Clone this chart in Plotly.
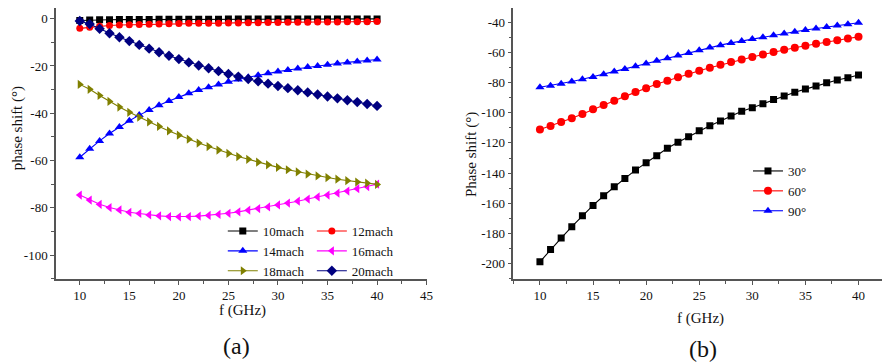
import plotly.graph_objects as go

# ---------------- data ----------------
freq = list(range(10, 41))

mach10 = [-0.8, -0.6, -0.5, -0.5, -0.4, -0.4, -0.4, -0.4, -0.3, -0.3, -0.3, -0.3, -0.3, -0.3, -0.3, -0.2,
          -0.2, -0.2, -0.2, -0.2, -0.2, -0.2, -0.2, -0.2, -0.1, -0.1, -0.1, -0.1, -0.1, -0.1, -0.1]
mach12 = [-4.1, -3.6, -3.2, -2.9, -2.7, -2.6, -2.5, -2.4, -2.3, -2.2, -2.1, -2.0, -2.0, -1.9, -1.9, -1.8,
          -1.8, -1.7, -1.7, -1.6, -1.6, -1.5, -1.5, -1.5, -1.4, -1.4, -1.4, -1.3, -1.3, -1.3, -1.2]
mach14 = [-58.6, -55.0, -51.7, -48.6, -45.8, -43.2, -40.8, -38.6, -36.6, -34.8, -33.1, -31.6, -30.2, -29.0,
          -27.8, -26.7, -25.7, -24.8, -23.9, -23.1, -22.4, -21.7, -21.1, -20.5, -20.0, -19.5, -19.0, -18.5,
          -18.1, -17.7, -17.3]
mach16 = [-74.6, -76.7, -78.5, -79.9, -80.9, -81.9, -82.4, -83.0, -83.4, -83.7, -83.8, -83.7, -83.5, -83.2,
          -82.8, -82.3, -81.7, -81.0, -80.3, -79.6, -78.8, -78.0, -77.2, -76.3, -75.4, -74.6, -73.8, -72.9,
          -71.9, -71.0, -70.0]
mach18 = [-27.8, -29.9, -32.5, -35.0, -37.4, -39.6, -41.7, -43.7, -45.6, -47.5, -49.3, -51.0, -52.6, -54.1,
          -55.6, -57.0, -58.3, -59.5, -60.7, -61.8, -62.9, -63.9, -64.8, -65.7, -66.5, -67.2, -67.9, -68.5,
          -69.1, -69.6, -70.1]
mach20 = [-1.0, -2.3, -4.3, -6.2, -7.9, -9.5, -11.1, -12.7, -14.2, -15.7, -17.1, -18.5, -19.8, -21.0, -22.2,
          -23.4, -24.5, -25.5, -26.5, -27.5, -28.5, -29.4, -30.3, -31.2, -32.1, -32.9, -33.7, -34.5, -35.3,
          -36.1, -36.9]

deg30 = [-198.7, -190.5, -183.0, -175.5, -168.2, -161.4, -155.0, -149.0, -143.5, -138.0, -133.1, -128.5,
         -123.6, -119.6, -115.9, -111.9, -108.6, -105.5, -102.2, -99.1, -96.7, -94.1, -91.2, -89.0, -86.5,
         -84.4, -82.4, -80.2, -78.4, -76.9, -75.1]
deg60 = [-111.1, -108.8, -106.2, -103.7, -100.9, -97.8, -94.9, -92.1, -89.2, -86.3, -83.9, -81.0, -78.9,
         -76.6, -74.2, -72.2, -70.2, -68.3, -66.5, -64.8, -63.1, -61.5, -59.9, -58.4, -57.0, -55.7, -54.4,
         -53.2, -52.0, -50.9, -49.8]
deg90 = [-83.2, -82.1, -80.8, -79.4, -77.9, -76.3, -74.6, -72.8, -71.0, -69.2, -67.4, -65.6, -63.9, -62.2,
         -60.5, -58.6, -56.9, -55.3, -53.8, -52.5, -51.2, -50.0, -48.8, -47.6, -46.4, -45.3, -44.3, -43.3,
         -42.3, -41.4, -40.5]

left_names = ["10mach", "12mach", "14mach", "16mach", "18mach", "20mach"]
right_names = ["30°", "60°", "90°"]

xa_tickvals = [10, 15, 20, 25, 30, 35, 40, 45]
xa_ticktext = ["10", "15", "20", "25", "30", "35", "40", "45"]
ya_tickvals = [0, -20, -40, -60, -80, -100]
ya_ticktext = ["0", "-20", "-40", "-60", "-80", "-100"]
xb_tickvals = [10, 15, 20, 25, 30, 35, 40]
xb_ticktext = ["10", "15", "20", "25", "30", "35", "40"]
yb_tickvals = [-40, -60, -80, -100, -120, -140, -160, -180, -200]
yb_ticktext = ["-40", "-60", "-80", "-100", "-120", "-140", "-160", "-180", "-200"]

# ---------------- figure ----------------
FONT = "Liberation Serif"
OFF = 8  # page body margin
W, H = 882, 356
ML, MR, MT, MB = 48, 0, 0, 85
PW, PH = W - ML - MR, H - MT - MB

fig = go.Figure()

left_series = [mach10, mach12, mach14, mach16, mach18, mach20]
left_colors = ["#000000", "#ff0000", "#0000ff", "#ff00ff", "#808000", "#000080"]
left_symbols = ["square", "circle", "triangle-up", "triangle-left", "triangle-right", "diamond"]
left_sizes = [7, 7, 8, 8, 8, 8]
left_legends = ["legend", "legend2", "legend", "legend2", "legend", "legend2"]

for name, ys, c, s, ms, lg in zip(left_names, left_series, left_colors, left_symbols, left_sizes, left_legends):
    fig.add_trace(go.Scatter(
        x=freq, y=ys, name=name, mode="lines+markers",
        line=dict(color=c, width=1.1),
        marker=dict(color=c, symbol=s, size=ms),
        xaxis="x", yaxis="y", legend=lg,
    ))

right_series = [deg30, deg60, deg90]
right_colors = ["#000000", "#ff0000", "#0000ff"]
right_symbols = ["square", "circle", "triangle-up"]
right_sizes = [7, 8, 8]
for name, ys, c, s, ms in zip(right_names, right_series, right_colors, right_symbols, right_sizes):
    fig.add_trace(go.Scatter(
        x=freq, y=ys, name=name, mode="lines+markers",
        line=dict(color=c, width=1.1),
        marker=dict(color=c, symbol=s, size=ms),
        xaxis="x2", yaxis="y2", legend="legend3",
    ))

axis_common = dict(
    showline=True, linecolor="#555555", linewidth=1.5, showgrid=False, zeroline=False,
    ticks="outside", ticklen=4, tickwidth=1.2, tickcolor="#555555",
    tickfont=dict(family=FONT, size=13, color="#111111"), tickmode="array",
)

def sx(xs):  # screen x -> paper x
    return (xs - OFF - ML) / PW

def sy(ys):  # screen y -> paper y
    return 1 - (ys - OFF - MT) / PH

leg_font = dict(family=FONT, size=13, color="#111111")

fig.update_layout(
    width=W, height=H,
    margin=dict(l=ML, r=MR, t=MT, b=MB),
    paper_bgcolor="white", plot_bgcolor="white",
    font=dict(family=FONT, color="#111111"),
    xaxis=dict(domain=[0, sx(429.3)], range=[7.6, 45], anchor="y",
               tickvals=xa_tickvals, ticktext=xa_ticktext,
               minor=dict(ticks="outside", ticklen=3, tick0=7.5, dtick=2.5, tickcolor="#555555"),
               **axis_common),
    yaxis=dict(domain=[0, 1], range=[-110.1, 4.5], anchor="x",
               tickvals=ya_tickvals, ticktext=ya_ticktext,
               minor=dict(ticks="outside", ticklen=3, tick0=0, dtick=10, tickcolor="#555555"),
               **axis_common),
    xaxis2=dict(domain=[sx(516.7), 1], range=[7.5, 42.4], anchor="y2",
                tickvals=xb_tickvals, ticktext=xb_ticktext,
                minor=dict(ticks="outside", ticklen=3, tick0=7.5, dtick=2.5, tickcolor="#555555"),
                **axis_common),
    yaxis2=dict(domain=[0, 1], range=[-210.1, -30.7], anchor="x2",
                tickvals=yb_tickvals, ticktext=yb_ticktext,
                minor=dict(ticks="outside", ticklen=3, tick0=0, dtick=10, tickcolor="#555555"),
                **axis_common),
    legend=dict(x=sx(224), y=sy(216), xanchor="left", yanchor="top", bgcolor="rgba(0,0,0,0)",
                font=leg_font, itemwidth=30, tracegroupgap=0),
    legend2=dict(x=sx(313.7), y=sy(216), xanchor="left", yanchor="top", bgcolor="rgba(0,0,0,0)",
                 font=leg_font, itemwidth=30, tracegroupgap=0),
    legend3=dict(x=sx(753), y=sy(156), xanchor="left", yanchor="top", bgcolor="rgba(0,0,0,0)",
                 font=leg_font, itemwidth=30, tracegroupgap=0),
    showlegend=True,
)

annotations = []
for text, (xs, ys), ang, size in [
    ("phase shift (°)", (17, 128), -90, 15),
    ("Phase shift (°)", (474, 154), -90, 15),
    ("f (GHz)", (243.5, 310), 0, 15),
    ("f (GHz)", (705, 318), 0, 15),
    ("(a)", (238, 346), 0, 24),
    ("(b)", (707.5, 349), 0, 24),
]:
    annotations.append(dict(text=text, x=sx(xs), y=sy(ys), xref="paper", yref="paper",
                            xanchor="center", yanchor="middle", showarrow=False,
                            textangle=ang, font=dict(family=FONT, size=size, color="#111111")))
fig.update_layout(annotations=annotations)

fig.write_html("out.html")
